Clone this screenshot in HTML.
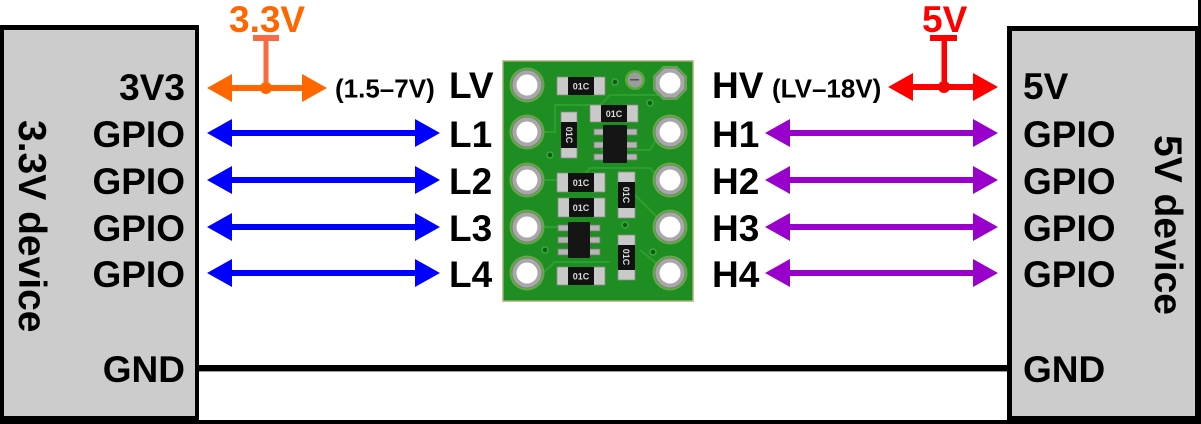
<!DOCTYPE html>
<html>
<head>
<meta charset="utf-8">
<style>
html,body{margin:0;padding:0;background:#fff;}
svg{display:block;}
text{font-family:"Liberation Sans",Arial,sans-serif;font-weight:bold;}
</style>
</head>
<body>
<svg width="1201" height="424" viewBox="0 0 1201 424" xmlns="http://www.w3.org/2000/svg">
  <rect x="0" y="0" width="1201" height="424" fill="#fff"/>

  <!-- bottom band and right edge -->
  <rect x="0" y="420" width="1201" height="4" fill="#000"/>
  <rect x="1198" y="0" width="3" height="30" fill="#000"/>

  <!-- left device box -->
  <rect x="0" y="25" width="199" height="399" fill="#000"/>
  <rect x="4" y="30" width="191" height="386" fill="#cccccc"/>
  <!-- right device box -->
  <rect x="1007" y="26" width="194" height="398" fill="#000"/>
  <rect x="1012" y="31" width="183" height="385" fill="#cccccc"/>

  <!-- GND line -->
  <rect x="199" y="365" width="808" height="6" fill="#000"/>
  <rect x="199" y="371" width="808" height="1" fill="#999"/>

  <!-- left labels -->
  <g font-size="37" fill="#000" text-anchor="end">
    <text x="185" y="100">3V3</text>
    <text x="185" y="147">GPIO</text>
    <text x="185" y="194">GPIO</text>
    <text x="185" y="241">GPIO</text>
    <text x="185" y="287">GPIO</text>
    <text x="185" y="382">GND</text>
  </g>
  <text x="120" y="-19" transform="rotate(90)" font-size="39" fill="#000">3.3V device</text>

  <!-- right labels -->
  <g font-size="37" fill="#000">
    <text x="1023" y="99">5V</text>
    <text x="1023" y="147">GPIO</text>
    <text x="1023" y="194">GPIO</text>
    <text x="1023" y="241">GPIO</text>
    <text x="1023" y="287">GPIO</text>
    <text x="1023" y="382">GND</text>
  </g>
  <text x="135" y="-1155" transform="rotate(90)" font-size="39" fill="#000">5V device</text>

  <!-- middle labels -->
  <g font-size="37" fill="#000">
    <text x="449" y="98">LV</text>
    <text x="449" y="147">L1</text>
    <text x="449" y="194">L2</text>
    <text x="449" y="241">L3</text>
    <text x="449" y="287">L4</text>
    <text x="712" y="98">HV</text>
    <text x="712" y="147">H1</text>
    <text x="712" y="194">H2</text>
    <text x="712" y="241">H3</text>
    <text x="712" y="287">H4</text>
  </g>
  <text x="335" y="97.5" font-size="26" fill="#000">(1.5–7V)</text>
  <text x="772" y="97.5" font-size="26" fill="#000">(LV–18V)</text>

  <!-- voltage labels -->
  <text x="229" y="32" font-size="37" fill="#ff6600">3.3V</text>
  <text x="922" y="32" font-size="37" fill="#ff0000">5V</text>

  <!-- orange supply -->
  <rect x="253" y="35" width="26" height="6" fill="#fa6a40"/>
  <rect x="263.5" y="38" width="5" height="50" fill="#fa6a40"/>
  <rect x="227" y="85" width="80" height="6" fill="#ff6600"/>
  <polygon points="207,88 232,74 232,102" fill="#ff6600"/>
  <polygon points="327,88 302,74 302,102" fill="#ff6600"/>
  <circle cx="266" cy="88" r="6" fill="#ff6600"/>

  <!-- red supply -->
  <rect x="930" y="35" width="27" height="6" fill="#ff0000"/>
  <rect x="941.5" y="38" width="5.5" height="50" fill="#ff0000"/>
  <rect x="908" y="84" width="70" height="6" fill="#ff0000"/>
  <polygon points="888,87 913,73 913,101" fill="#ff0000"/>
  <polygon points="998,87 973,73 973,101" fill="#ff0000"/>
  <circle cx="944" cy="87" r="6" fill="#ff0000"/>

  <!-- blue arrows -->
  <g fill="#0000ff">
    <rect x="227" y="130" width="193" height="6"/>
    <polygon points="207,133 232,119 232,147"/><polygon points="440,133 415,119 415,147"/>
    <rect x="227" y="177" width="193" height="6"/>
    <polygon points="207,180 232,166 232,194"/><polygon points="440,180 415,166 415,194"/>
    <rect x="227" y="224" width="193" height="6"/>
    <polygon points="207,227 232,213 232,241"/><polygon points="440,227 415,213 415,241"/>
    <rect x="227" y="270" width="193" height="6"/>
    <polygon points="207,273 232,259 232,287"/><polygon points="440,273 415,259 415,287"/>
  </g>

  <!-- purple arrows -->
  <g fill="#9900cc">
    <rect x="785" y="130" width="193" height="6"/>
    <polygon points="765,133 790,119 790,147"/><polygon points="998,133 973,119 973,147"/>
    <rect x="785" y="177" width="193" height="6"/>
    <polygon points="765,180 790,166 790,194"/><polygon points="998,180 973,166 973,194"/>
    <rect x="785" y="224" width="193" height="6"/>
    <polygon points="765,227 790,213 790,241"/><polygon points="998,227 973,213 973,241"/>
    <rect x="785" y="270" width="193" height="6"/>
    <polygon points="765,273 790,259 790,287"/><polygon points="998,273 973,259 973,287"/>
  </g>

  <!-- board -->
  <rect x="502" y="60" width="192" height="242" fill="#c8c496"/>
  <rect x="503.5" y="61.5" width="189" height="239" fill="#1f8e22"/>
  <!-- faint traces -->
  <g stroke="#2fa535" stroke-width="2" fill="none" opacity="0.8">
    <path d="M543,132 L555,132 L555,105 L600,105 L610,95 L660,95"/>
    <path d="M543,180 L580,180 L590,168 L650,168 L660,180"/>
    <path d="M543,227 L565,227"/>
    <path d="M600,150 L650,150 L660,132"/>
    <path d="M635,195 L655,215 L660,227"/>
    <path d="M543,273 L555,262 L610,262"/>
    <path d="M640,250 L655,262 L660,273"/>
  </g>
  <!-- vias -->
  <g fill="#0d5e12" stroke="#3aa83f" stroke-width="1.5">
    <circle cx="615" cy="82" r="3"/>
    <circle cx="650" cy="103" r="3"/>
    <circle cx="550" cy="155" r="3"/>
    <circle cx="625" cy="225" r="3"/>
    <circle cx="545" cy="250" r="3"/>
    <circle cx="653" cy="252" r="3"/>
  </g>
  <!-- fiducial -->
  <circle cx="635" cy="80" r="10" fill="#5aa83c"/>
  <circle cx="635" cy="80" r="7.5" fill="#9c9c9c"/>
  <rect x="630" y="79" width="9" height="1.5" fill="#555"/>

  <!-- pads -->
  <g>
    <g fill="#62ad44">
      <circle cx="527" cy="85" r="17.5"/><circle cx="527" cy="132" r="17.5"/>
      <circle cx="527" cy="180" r="17.5"/><circle cx="527" cy="227" r="17.5"/>
      <circle cx="527" cy="273" r="17.5"/>
      <circle cx="670" cy="132" r="17.5"/><circle cx="670" cy="180" r="17.5"/>
      <circle cx="670" cy="227" r="17.5"/><circle cx="670" cy="273" r="17.5"/>
      <polygon points="663,66 677,66 687,76 687,90 677,100 663,100 653,90 653,76"/>
    </g>
    <g fill="#a8a8a8" stroke="#7d7d7d" stroke-width="1">
      <circle cx="527" cy="85" r="15"/><circle cx="527" cy="132" r="15"/>
      <circle cx="527" cy="180" r="15"/><circle cx="527" cy="227" r="15"/>
      <circle cx="527" cy="273" r="15"/>
      <circle cx="670" cy="132" r="15"/><circle cx="670" cy="180" r="15"/>
      <circle cx="670" cy="227" r="15"/><circle cx="670" cy="273" r="15"/>
      <polygon points="664,68 676,68 685,77 685,89 676,98 664,98 655,89 655,77"/>
    </g>
    <g fill="#fff">
      <circle cx="527" cy="85" r="10.5"/><circle cx="527" cy="132" r="10.5"/>
      <circle cx="527" cy="180" r="10.5"/><circle cx="527" cy="227" r="10.5"/>
      <circle cx="527" cy="273" r="10.5"/>
      <circle cx="670" cy="83" r="10.5"/>
      <circle cx="670" cy="132" r="10.5"/><circle cx="670" cy="180" r="10.5"/>
      <circle cx="670" cy="227" r="10.5"/><circle cx="670" cy="273" r="10.5"/>
    </g>
  </g>

  <!-- horizontal resistors -->
  <g>
    <g fill="#c9c9c9" stroke="#8a8a8a" stroke-width="0.8">
      <rect x="557" y="77" width="12" height="18"/><rect x="593" y="77" width="12" height="18"/>
      <rect x="590" y="105" width="12" height="17"/><rect x="626" y="105" width="12" height="17"/>
      <rect x="557" y="173" width="12" height="19"/><rect x="593" y="173" width="12" height="19"/>
      <rect x="558" y="198" width="12" height="19"/><rect x="593" y="198" width="12" height="19"/>
      <rect x="557" y="267" width="12" height="18"/><rect x="593" y="267" width="12" height="18"/>
      <!-- vertical -->
      <rect x="561" y="112" width="16" height="11"/><rect x="561" y="147" width="16" height="11"/>
      <rect x="618" y="172" width="17" height="11"/><rect x="618" y="207" width="17" height="11"/>
      <rect x="618" y="235" width="17" height="11"/><rect x="618" y="269" width="17" height="11"/>
    </g>
    <g fill="#111">
      <rect x="568" y="77" width="26" height="18"/>
      <rect x="601" y="105" width="26" height="17"/>
      <rect x="568" y="173" width="26" height="19"/>
      <rect x="569" y="198" width="25" height="19"/>
      <rect x="568" y="267" width="26" height="18"/>
      <rect x="561" y="122" width="16" height="26"/>
      <rect x="618" y="182" width="17" height="26"/>
      <rect x="618" y="245" width="17" height="25"/>
    </g>
    <g fill="#ddd" font-size="9" text-anchor="middle">
      <text x="581" y="89.5">01C</text>
      <text x="614" y="117">01C</text>
      <text x="581" y="186">01C</text>
      <text x="581" y="211">01C</text>
      <text x="581" y="279.5">01C</text>
    </g>
    <text x="135" y="-566" transform="rotate(90)" font-size="9" fill="#ddd" text-anchor="middle">01C</text>
    <text x="195" y="-623" transform="rotate(90)" font-size="9" fill="#ddd" text-anchor="middle">01C</text>
    <text x="257" y="-623" transform="rotate(90)" font-size="9" fill="#ddd" text-anchor="middle">01C</text>
  </g>

  <!-- chips -->
  <g fill="#b5b5b5" stroke="#7a7a7a" stroke-width="0.8">
    <rect x="594" y="129" width="10" height="6"/><rect x="594" y="142" width="10" height="6"/><rect x="594" y="154" width="10" height="6"/>
    <rect x="626" y="129" width="11" height="6"/><rect x="626" y="142" width="11" height="6"/><rect x="626" y="154" width="11" height="6"/>
    <rect x="558" y="225" width="11" height="6"/><rect x="558" y="237" width="11" height="6"/><rect x="558" y="249" width="11" height="6"/>
    <rect x="589" y="225" width="11" height="6"/><rect x="589" y="237" width="11" height="6"/><rect x="589" y="249" width="11" height="6"/>
  </g>
  <rect x="603" y="125" width="24" height="38" fill="#151515" rx="1"/>
  <rect x="568" y="222" width="22" height="36" fill="#151515" rx="1"/>
</svg>
</body>
</html>
